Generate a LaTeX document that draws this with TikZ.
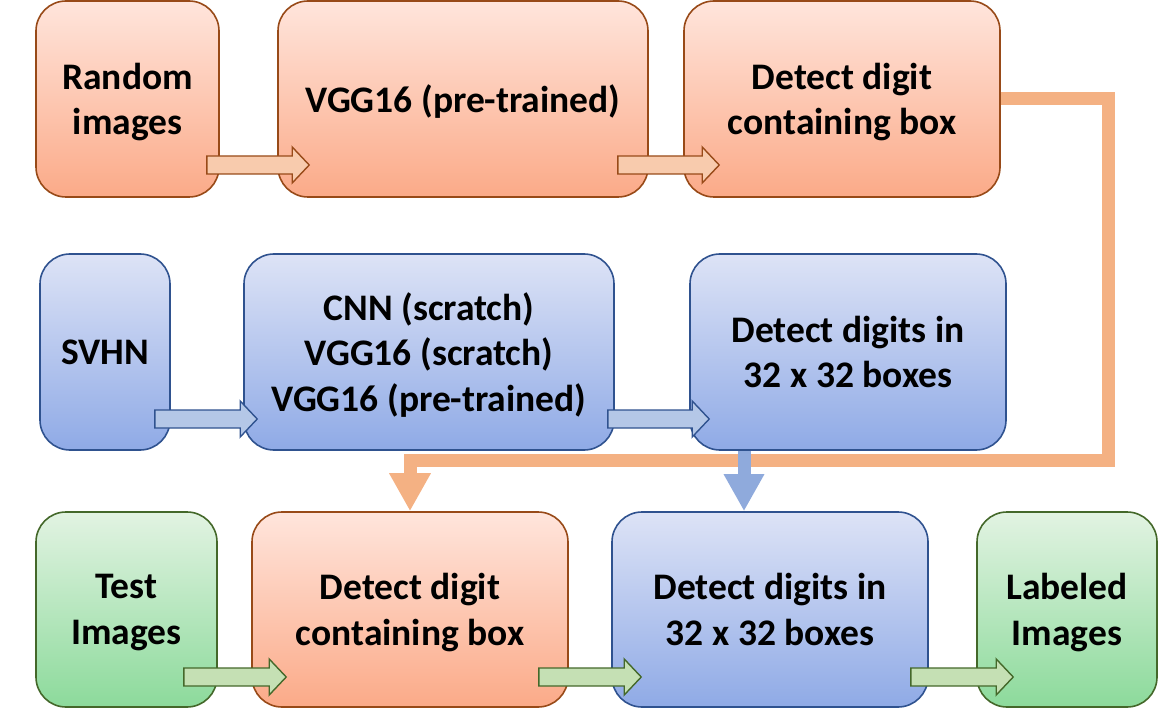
\documentclass[tikz,border=0pt]{standalone}
\usepackage{fontspec}
\setmainfont{Carlito}
\usepackage{tikz}
\usetikzlibrary{calc,arrows.meta}

\definecolor{otop}{RGB}{255,229,220}
\definecolor{obot}{RGB}{251,170,136}
\definecolor{oedge}{RGB}{152,74,24}
\definecolor{ofill}{RGB}{248,203,173}
\definecolor{oline}{RGB}{244,177,131}
\definecolor{btop}{RGB}{221,227,246}
\definecolor{bbot}{RGB}{143,170,230}
\definecolor{bedge}{RGB}{47,82,143}
\definecolor{bfill}{RGB}{180,199,231}
\definecolor{bline}{RGB}{143,170,220}
\definecolor{gtop}{RGB}{226,243,226}
\definecolor{gbot}{RGB}{140,218,155}
\definecolor{gedge}{RGB}{68,104,42}
\definecolor{gfill}{RGB}{197,224,180}

% block arrow from a start point to a tip point (same height)
\newcommand{\blockarrow}[3]{%
  \path[#1] let \p1=(#2), \p2=(#3) in
    (\x1,\y1+9pt) -- (\x2-17pt,\y1+9pt) -- (\x2-17pt,\y1+18pt) -- (\x2,\y1)
    -- (\x2-17pt,\y1-18pt) -- (\x2-17pt,\y1-9pt) -- (\x1,\y1-9pt) -- cycle;}

\begin{document}
\begin{tikzpicture}[x=1pt,y=-1pt,line width=1.6pt,
    box/.style={rounded corners=30pt,align=center,inner sep=0pt,text depth=0pt,
      font=\fontsize{37.5}{45.5}\selectfont\bfseries},
    obox/.style={box,draw=oedge,top color=otop,bottom color=obot},
    bbox/.style={box,draw=bedge,top color=btop,bottom color=bbot},
    gbox/.style={box,draw=gedge,top color=gtop,bottom color=gbot},
    oarr/.style={draw=oedge,fill=ofill,line width=1.4pt},
    barr/.style={draw=bedge,fill=bfill,line width=1.4pt},
    garr/.style={draw=gedge,fill=gfill,line width=1.4pt}]
    \useasboundingbox (0,0) rectangle (1158,708);
    % top row
    \node[obox,minimum width=183pt,minimum height=196pt] (rand) at (127.5,99) {Random\\images};
    \node[obox,minimum width=370pt,minimum height=196pt] (vgg) at (463,99) {VGG16 (pre-trained)};
    \node[obox,minimum width=316pt,minimum height=196pt] (boxtop) at (842,99) {Detect digit\\containing box};
    % middle row
    \node[bbox,minimum width=130pt,minimum height=196pt] (svhn) at (105,352) {SVHN};
    \node[bbox,minimum width=370pt,minimum height=196pt] (cnn) at (429,352) {CNN (scratch)\\VGG16 (scratch)\\VGG16 (pre-trained)};
    \node[bbox,minimum width=316pt,minimum height=196pt] (digmid) at (848,352) {Detect digits in\\32 x 32 boxes};
    % bottom row
    \node[gbox,minimum width=181pt,minimum height=195pt] (test) at (126.5,609.5) {Test\\Images};
    \node[obox,minimum width=316pt,minimum height=195pt] (boxbot) at (410,609.5) {Detect digit\\containing box};
    \node[bbox,minimum width=316pt,minimum height=195pt] (digbot) at (770,609.5) {Detect digits in\\32 x 32 boxes};
    \node[gbox,minimum width=180pt,minimum height=195pt] (lab) at (1067,609.5) {Labeled\\Images};
    \coordinate (turn) at (1108,460);
    % feed lines
    \draw[oline,line width=13pt,line join=miter,-{Triangle[width=39pt,length=38pt]}]
      (boxtop.east) -| (turn) -| (boxbot.north);
    \draw[bline,line width=13pt,-{Triangle[width=38pt,length=37pt]}]
      ($(digmid.south)+(-104,0)$) -- ($(digbot.north)+(-26,0)$);
    % block arrows
    \blockarrow{oarr}{$(rand.east)+(-13,66)$}{$(vgg.west)+(32,66)$}
    \blockarrow{oarr}{$(vgg.east)+(-31,66)$}{$(boxtop.west)+(36,66)$}
    \blockarrow{barr}{$(svhn.east)+(-16,67)$}{$(cnn.west)+(14,67)$}
    \blockarrow{barr}{$(cnn.east)+(-7,67)$}{$(digmid.west)+(20,67)$}
    \blockarrow{garr}{$(test.east)+(-34,67.5)$}{$(boxbot.west)+(35,67.5)$}
    \blockarrow{garr}{$(boxbot.east)+(-30,67.5)$}{$(digbot.west)+(30,67.5)$}
    \blockarrow{garr}{$(digbot.east)+(-18,67.5)$}{$(lab.west)+(37,67.5)$}
    \end{tikzpicture}
\end{document}
